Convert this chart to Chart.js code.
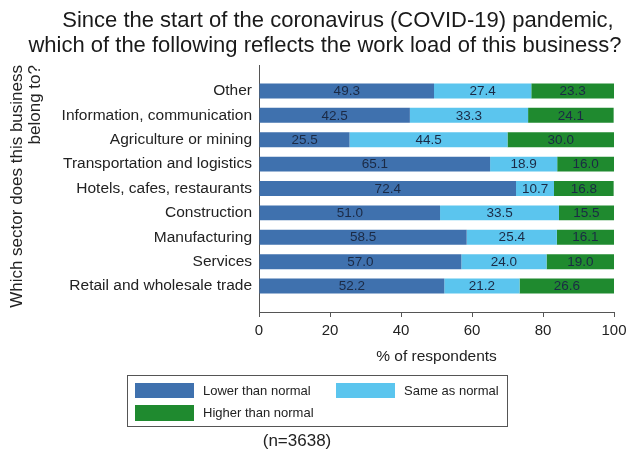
<!DOCTYPE html>
<html>
<head>
<meta charset="utf-8">
<script src="https://cdn.jsdelivr.net/npm/chart.js@4"></script>
<style>
html,body{margin:0;padding:0;background:#fff;}
canvas{display:block;}
</style>
</head>
<body>
<canvas id="c" width="629" height="450"></canvas>
<script>
// Data (top-to-bottom order as in the picture)
const categories = ["Other","Information, communication","Agriculture or mining","Transportation and logistics","Hotels, cafes, restaurants","Construction","Manufacturing","Services","Retail and wholesale trade"];
const lowerThanNormal = [49.3,42.5,25.5,65.1,72.4,51.0,58.5,57.0,52.2];
const sameAsNormal   = [27.4,33.3,44.5,18.9,10.7,33.5,25.4,24.0,21.2];
const higherThanNormal = [23.3,24.1,30.0,16.0,16.8,15.5,16.1,19.0,26.6];
const seriesLabels = ["Lower than normal","Same as normal","Higher than normal"];
const xTicks = [0,20,40,60,80,100];
const titleLines = ["Since the start of the coronavirus (COVID-19) pandemic,","which of the following reflects the work load of this business?"];
const yTitle = ["Which sector does this business","belong to?"];
const xTitle = "% of respondents";
const footnote = "(n=3638)";

const colors = ["#3f71ae","#5bc5ee","#1f8a2f"];
const FONT = "'Liberation Sans', Arial, sans-serif";
Chart.defaults.font.family = FONT;
Chart.defaults.color = "#222";

const n = categories.length;
const toPts = arr => arr.map((v,i)=>({x:v, y:n-1-i}));

const valueLabels = {
  id:'valueLabels',
  afterDatasetsDraw(chart){
    const ctx = chart.ctx;
    ctx.save();
    ctx.font = "13.5px " + FONT;
    ctx.fillStyle = "#1b2a45";
    ctx.textAlign = "center";
    ctx.textBaseline = "middle";
    chart.data.datasets.forEach((ds,di)=>{
      const meta = chart.getDatasetMeta(di);
      meta.data.forEach((el,i)=>{
        const v = ds.data[i].x;
        ctx.fillText(v.toFixed(1), (el.x+el.base)/2, el.y+0.5);
      });
    });
    ctx.restore();
  }
};

const decorations = {
  id:'decorations',
  afterDraw(chart){
    const ctx = chart.ctx;
    ctx.save();
    // title
    ctx.fillStyle = "#1a1a1a";
    ctx.font = "22px " + FONT;
    ctx.textAlign = "center";
    ctx.textBaseline = "middle";
    ctx.fillText(titleLines[0], 338, 21);
    ctx.fillText(titleLines[1], 325, 46);
    // legend box
    ctx.strokeStyle = "#555";
    ctx.lineWidth = 1;
    ctx.strokeRect(127.5, 375.5, 380, 51);
    const items = [
      {x:135, y:383, h:15},
      {x:336, y:383, h:15},
      {x:135, y:405, h:16}
    ];
    ctx.font = "13px " + FONT;
    ctx.textAlign = "left";
    ctx.fillStyle = "#222";
    chart.data.datasets.forEach((ds,i)=>{
      const it = items[i];
      ctx.fillStyle = ds.backgroundColor;
      ctx.fillRect(it.x, it.y, 59, it.h);
      ctx.fillStyle = "#222";
      ctx.fillText(ds.label, it.x+68, it.y+it.h/2+0.5);
    });
    // footnote
    ctx.font = "17px " + FONT;
    ctx.textAlign = "center";
    ctx.fillText(footnote, 297, 441);
    ctx.restore();
  }
};

new Chart(document.getElementById('c'), {
  type:'bar',
  data:{
    datasets:[
      {label:seriesLabels[0], data:toPts(lowerThanNormal), backgroundColor:colors[0]},
      {label:seriesLabels[1], data:toPts(sameAsNormal), backgroundColor:colors[1]},
      {label:seriesLabels[2], data:toPts(higherThanNormal), backgroundColor:colors[2]}
    ]
  },
  options:{
    responsive:false,
    animation:false,
    indexAxis:'y',
    barPercentage:0.615,
    categoryPercentage:1,
    layout:{padding:{top:65,right:15,bottom:80,left:0}},
    plugins:{legend:{display:false}, tooltip:{enabled:false}, title:{display:false}},
    scales:{
      x:{
        type:'linear', stacked:true, min:0, max:100, offset:false,
        afterBuildTicks(s){ s.ticks = xTicks.map(v=>({value:v})); },
        grid:{display:true, drawOnChartArea:false, drawTicks:true, tickLength:5, color:"#555", offset:false},
        border:{display:true, color:"#555", width:1},
        ticks:{font:{size:15}, color:"#222", padding:5, maxRotation:0},
        title:{display:true, text:xTitle, font:{size:15.5}, color:"#222", padding:{top:0,bottom:3.7}},
        afterFit(s){ s.height = 58; s.paddingRight = 0; s.paddingLeft = 0; }
      },
      y:{
        type:'linear', stacked:true, min:-1.066, max:9.066, offset:false,
        afterBuildTicks(s){ s.ticks = categories.map((_,i)=>({value:i})); },
        grid:{display:false, drawTicks:false, offset:false},
        border:{display:true, color:"#555", width:1},
        ticks:{font:{size:15.5}, color:"#222", padding:7,
          callback:(v)=>categories[n-1-v]},
        title:{display:true, text:yTitle, align:'end', font:{size:17, lineHeight:1.05}, color:"#222", padding:{top:8.6,bottom:0}},
        afterFit(s){ s.width = 259; s.paddingTop = 0; s.paddingBottom = 0; }
      }
    }
  },
  plugins:[valueLabels, decorations]
});
</script>
</body>
</html>
